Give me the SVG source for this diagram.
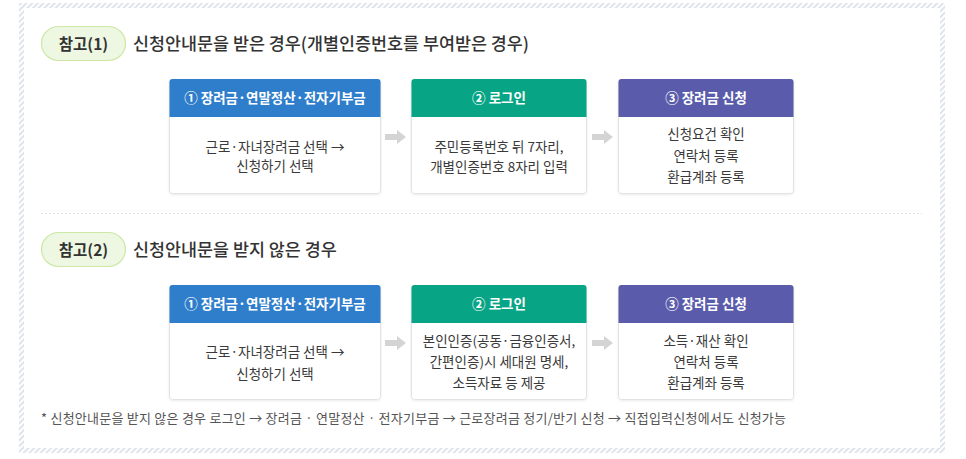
<svg xmlns="http://www.w3.org/2000/svg" width="966" height="459" viewBox="0 0 966 459">
<defs>
<pattern id="stripes" width="4" height="4" patternUnits="userSpaceOnUse" patternTransform="rotate(45)">
<rect width="4" height="4" fill="#ffffff"/>
<rect width="2" height="4" fill="#dfe4ec"/>
</pattern>
<filter id="sh" x="-5%" y="-5%" width="110%" height="115%">
<feDropShadow dx="0" dy="1" stdDeviation="1" flood-color="#000" flood-opacity="0.08"/>
</filter>
</defs>
<style>
text{font-family:"Noto Sans CJK KR","Noto Sans",sans-serif;}
.pill{fill:#eef7e1;stroke:#cde8a6;stroke-width:1.2;}
.pt{font-size:15.5px;font-weight:700;fill:#333;text-anchor:middle;}
.title{font-size:17.4px;font-weight:500;fill:#333;}
.body{fill:#fff;stroke:#e2e2e2;stroke-width:1;filter:url(#sh);}
.ht{font-size:13.5px;font-weight:700;fill:#fff;text-anchor:middle;}
.bt{font-size:13.5px;fill:#3a3a3a;text-anchor:middle;}
.blue{fill:#2f7ecb;}
.green{fill:#07a585;}
.purple{fill:#5a5cab;}
.arr{fill:#d4d4d4;}
.note{font-size:13px;fill:#555;}
</style>
<rect x="0" y="0" width="966" height="459" fill="#fff"/>
<rect x="21.5" y="5.5" width="921" height="445" fill="none" stroke="url(#stripes)" stroke-width="5"/>

<g id="ref1">
<rect class="pill" x="41.5" y="26.5" width="84" height="34" rx="17"/>
<text class="pt" x="83.5" y="49.5">참고(1)</text>
<text class="title" x="133" y="50">신청안내문을 받은 경우(개별인증번호를 부여받은 경우)</text>
</g>

<g id="r1b1">
<rect class="body" x="169.5" y="79.5" width="211" height="114" rx="3"/>
<path class="blue" d="M172.5 79h205a3 3 0 0 1 3 3v35h-211v-35a3 3 0 0 1 3-3z"/>
<text class="ht" x="275" y="103">① 장려금·연말정산·전자기부금</text>
<text class="bt" x="275" y="152">근로·자녀장려금 선택 →</text>
<text class="bt" x="275" y="171">신청하기 선택</text>
</g>
<g id="r1b2">
<rect class="body" x="411.5" y="79.5" width="175" height="114" rx="3"/>
<path class="green" d="M414.5 79h169a3 3 0 0 1 3 3v35h-175v-35a3 3 0 0 1 3-3z"/>
<text class="ht" x="499" y="103">② 로그인</text>
<text class="bt" x="499" y="152">주민등록번호 뒤 7자리,</text>
<text class="bt" x="499" y="172">개별인증번호 8자리 입력</text>
</g>
<g id="r1b3">
<rect class="body" x="618.5" y="79.5" width="175" height="114" rx="3"/>
<path class="purple" d="M621.5 79h169a3 3 0 0 1 3 3v35h-175v-35a3 3 0 0 1 3-3z"/>
<text class="ht" x="706" y="103">③ 장려금 신청</text>
<text class="bt" x="706" y="139">신청요건 확인</text>
<text class="bt" x="706" y="161">연락처 등록</text>
<text class="bt" x="706" y="182">환급계좌 등록</text>
</g>

<line x1="41" y1="213.5" x2="922" y2="213.5" stroke="#e0e0e0" stroke-dasharray="2 2"/>

<g id="ref2">
<rect class="pill" x="41.5" y="232.5" width="84" height="34" rx="17"/>
<text class="pt" x="83.5" y="255.5">참고(2)</text>
<text class="title" x="133" y="256">신청안내문을 받지 않은 경우</text>
</g>

<g id="r2b1">
<rect class="body" x="169.5" y="285.5" width="211" height="114" rx="3"/>
<path class="blue" d="M172.5 285h205a3 3 0 0 1 3 3v35h-211v-35a3 3 0 0 1 3-3z"/>
<text class="ht" x="275" y="309">① 장려금·연말정산·전자기부금</text>
<text class="bt" x="275" y="357">근로·자녀장려금 선택 →</text>
<text class="bt" x="275" y="379">신청하기 선택</text>
</g>
<g id="r2b2">
<rect class="body" x="411.5" y="285.5" width="175" height="114" rx="3"/>
<path class="green" d="M414.5 285h169a3 3 0 0 1 3 3v35h-175v-35a3 3 0 0 1 3-3z"/>
<text class="ht" x="499" y="309">② 로그인</text>
<text class="bt" x="499" y="346">본인인증(공동·금융인증서,</text>
<text class="bt" x="499" y="367">간편인증)시 세대원 명세,</text>
<text class="bt" x="499" y="388">소득자료 등 제공</text>
</g>
<g id="r2b3">
<rect class="body" x="618.5" y="285.5" width="175" height="114" rx="3"/>
<path class="purple" d="M621.5 285h169a3 3 0 0 1 3 3v35h-175v-35a3 3 0 0 1 3-3z"/>
<text class="ht" x="706" y="309">③ 장려금 신청</text>
<text class="bt" x="706" y="346">소득·재산 확인</text>
<text class="bt" x="706" y="367">연락처 등록</text>
<text class="bt" x="706" y="388">환급계좌 등록</text>
</g>

<g id="connectors">
<path class="arr" d="M385 134h12v-4l9 7-9 7v-4h-12z"/>
<path class="arr" d="M592 134h12v-4l9 7-9 7v-4h-12z"/>
<path class="arr" d="M385 340h12v-4l9 7-9 7v-4h-12z"/>
<path class="arr" d="M592 340h12v-4l9 7-9 7v-4h-12z"/>
</g>

<text class="note" x="41" y="423" textLength="745" lengthAdjust="spacing">* 신청안내문을 받지 않은 경우 로그인 → 장려금 · 연말정산 · 전자기부금 → 근로장려금 정기/반기 신청 → 직접입력신청에서도 신청가능</text>
</svg>
